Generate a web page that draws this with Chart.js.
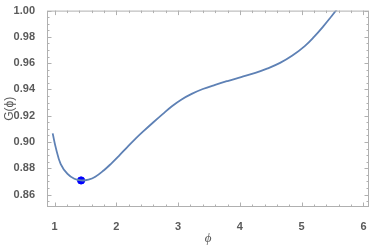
<!DOCTYPE html>
<html>
<head>
<meta charset="utf-8">
<script src="https://cdn.jsdelivr.net/npm/chart.js@4.4.0/dist/chart.umd.min.js"></script>
<style>
  html, body { margin: 0; padding: 0; background: #fff; }
  canvas { display: block; }
</style>
</head>
<body>
<canvas id="grafico" width="374" height="249"></canvas>
<script>
// valores
const phiValues = [0.97, 1.02, 1.10, 1.21, 1.32, 1.43, 1.55, 1.66, 1.80, 1.91, 2.05, 2.17, 2.30, 2.44, 2.60, 2.75, 2.90, 3.05, 3.22, 3.40, 3.60, 3.80, 4.02, 4.25, 4.45, 4.65, 4.85, 5.05, 5.20, 5.35, 5.48, 5.58];
const gValues = [0.9065, 0.8957, 0.8832, 0.8757, 0.8720, 0.8707, 0.8713, 0.8735, 0.8785, 0.8832, 0.8898, 0.8957, 0.9020, 0.9082, 0.9150, 0.9212, 0.9272, 0.9322, 0.9366, 0.9403, 0.9435, 0.9464, 0.9494, 0.9526, 0.9560, 0.9602, 0.9658, 0.9730, 0.9800, 0.9880, 0.9955, 1.0015];
const minPhi = [1.43];
const minG = [0.8707];
const xTicks = [1, 2, 3, 4, 5, 6];
const yTicks = [0.86, 0.88, 0.90, 0.92, 0.94, 0.96, 0.98, 1.00];

const frameColor = "#b0b0b0";
const labelColor = "#5a5a5a";

// moldura estilo Mathematica com ticks para dentro
const framePlugin = {
  id: "moldura",
  afterDraw(chart) {
    const { ctx, chartArea: a, scales } = chart;
    const xs = scales.x, ys = scales.y;
    ctx.save();
    ctx.strokeStyle = frameColor;
    ctx.lineWidth = 1;
    ctx.strokeRect(a.left + 0.5, a.top + 0.5, a.right - a.left - 1, a.bottom - a.top - 1);

    const drawX = (v, len) => {
      const px = Math.round(xs.getPixelForValue(v)) + 0.5;
      if (px < a.left || px > a.right) return;
      ctx.beginPath();
      ctx.moveTo(px, a.bottom); ctx.lineTo(px, a.bottom - len);
      ctx.moveTo(px, a.top); ctx.lineTo(px, a.top + len);
      ctx.stroke();
    };
    const drawY = (v, len) => {
      const py = Math.round(ys.getPixelForValue(v)) + 0.5;
      if (py < a.top - 1 || py > a.bottom) return;
      ctx.beginPath();
      ctx.moveTo(a.left, py); ctx.lineTo(a.left + len, py);
      ctx.moveTo(a.right, py); ctx.lineTo(a.right - len, py);
      ctx.stroke();
    };
    for (let i = 0; i <= 30; i++) {
      const v = 0.8 + i * 0.2;
      drawX(v, i % 5 === 1 ? 4.5 : 2.5);
    }
    for (let i = 0; i <= 32; i++) {
      const v = 0.85 + i * 0.005;
      drawY(v, i % 4 === 2 ? 4.5 : 2.5);
    }
    ctx.restore();
  },
};

const ctx = document.getElementById("grafico").getContext("2d");
new Chart(ctx, {
  type: "line",
  data: {
    datasets: [
      {
        data: phiValues.map((p, i) => ({ x: p, y: gValues[i] })),
        borderColor: "#5e81b5",
        borderWidth: 1.8,
        pointRadius: 0,
        tension: 0.4,
        fill: false,
      },
      {
        type: "scatter",
        data: minPhi.map((p, i) => ({ x: p, y: minG[i] })),
        backgroundColor: "#0000ff",
        borderColor: "#0000ff",
        pointRadius: 3.6,
      },
    ],
  },
  options: {
    responsive: false,
    animation: false,
    layout: { padding: { top: 7, right: 2, left: 0, bottom: 0 } },
    plugins: { legend: { display: false }, tooltip: { enabled: false } },
    scales: {
      x: {
        type: "linear",
        min: 0.878,
        max: 6.09,
        afterBuildTicks: (s) => { s.ticks = xTicks.map((v) => ({ value: v })); },
        afterFit: (s) => { s.height = 42; },
        grid: { display: false },
        border: { display: false },
        ticks: {
          color: labelColor,
          font: { family: "Liberation Sans", size: 11, weight: "bold" },
          padding: 5,
          maxRotation: 0,
          callback: (v) => String(v),
        },
        title: {
          display: true,
          text: "ϕ",
          color: labelColor,
          font: { family: "Liberation Serif", size: 13, style: "italic" },
          padding: { top: 0, bottom: 2.5 },
        },
      },
      y: {
        type: "linear",
        min: 0.8505,
        max: 1.0,
        afterBuildTicks: (s) => { s.ticks = yTicks.map((v) => ({ value: v })); },
        afterFit: (s) => { s.width = 47; },
        grid: { display: false },
        border: { display: false },
        ticks: {
          color: labelColor,
          font: { family: "Liberation Sans", size: 11, weight: "bold" },
          padding: 4,
          callback: (v) => v.toFixed(2),
        },
        title: {
          display: true,
          text: "G(ϕ)",
          color: labelColor,
          font: { family: "Liberation Sans", size: 12 },
          padding: { top: 2, bottom: 0 },
        },
      },
    },
  },
  plugins: [framePlugin],
});
</script>
</body>
</html>
